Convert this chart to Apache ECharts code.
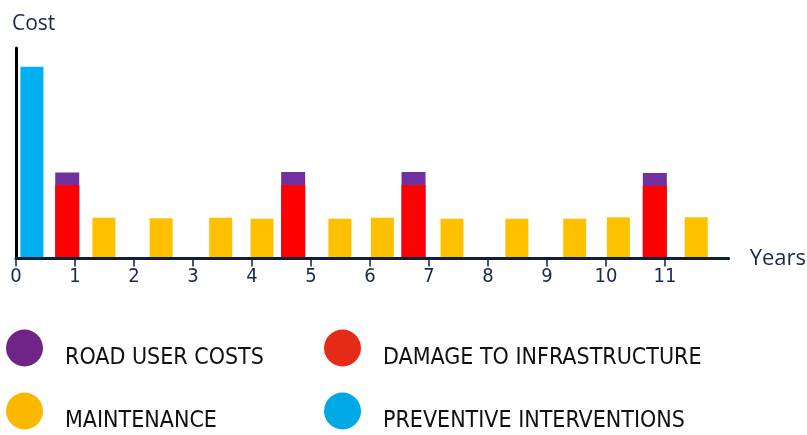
<!DOCTYPE html>
<html>
<head>
<meta charset="utf-8">
<script src="https://cdn.jsdelivr.net/npm/echarts@6/dist/echarts.min.js"></script>
<style>
  html, body { margin: 0; padding: 0; background: #ffffff; }
  #chart { width: 807px; height: 435px; }
</style>
</head>
<body>
<div id="chart"></div>
<script>
// Year ticks shown along the time axis
const yearTicks = [0, 1, 2, 3, 4, 5, 6, 7, 8, 9, 10, 11];

// Preventive intervention (start of life)
const preventiveYears = [0.27];
const preventiveCost = [9.11];

// Interventions after damage: infrastructure damage + road user costs on top
const damageYears = [0.86, 4.69, 6.73, 10.82];
const damageCost = [3.49, 3.49, 3.49, 3.46];
const userCost = [0.59, 0.62, 0.62, 0.60];

// Routine maintenance
const maintenanceYears = [1.49, 2.46, 3.47, 4.17, 5.49, 6.21, 7.39, 8.49, 9.47, 10.21, 11.53];
const maintenanceCost = [1.94, 1.91, 1.94, 1.89, 1.89, 1.94, 1.89, 1.89, 1.89, 1.96, 1.96];

const pairs = (xs, ys) => xs.map((x, i) => [x, ys[i]]);

// Road user costs sit on top of the damage bars: draw the combined height
// behind the damage bar so only the user-cost part shows above it.
const damagePlusUser = damageCost.map((v, i) => +(v + userCost[i]).toFixed(2));

const NAVY = '#0e1f3d';
const TEXT_NAVY = '#18294a';
const condensed = 'DejaVu Sans Condensed';

// Legend labels sit a little below the centre of their colour dot:
// an empty first line pushes the label down by half a line.
const legendBase = {
  orient: 'horizontal',
  padding: 0,
  icon: 'circle',
  itemWidth: 37,
  itemHeight: 37,
  formatter: name => '\n' + name,
  textStyle: {
    fontFamily: condensed,
    fontSize: 23,
    color: '#111111',
    lineHeight: 21,
    padding: [0, 0, 0, 17]
  }
};

const chart = echarts.init(document.getElementById('chart'), null, { renderer: 'canvas' });

chart.setOption({
  animation: false,
  backgroundColor: '#ffffff',
  grid: { left: 16, right: 75, top: 48, bottom: 176.5 },
  xAxis: {
    type: 'value',
    min: 0,
    max: 12.08,
    interval: 1,
    z: 5,
    name: 'Years',
    nameLocation: 'end',
    nameGap: 21,
    nameTextStyle: { color: TEXT_NAVY, fontSize: 22, fontFamily: 'Open Sans', verticalAlign: 'middle', padding: [3, 0, 0, 0] },
    axisLine: { show: true, lineStyle: { color: NAVY, width: 3 } },
    axisTick: { show: true, length: 8, customValues: yearTicks, lineStyle: { color: NAVY, width: 1.5 } },
    axisLabel: {
      customValues: yearTicks,
      color: TEXT_NAVY,
      fontSize: 20,
      fontFamily: condensed,
      margin: 8
    },
    splitLine: { show: false }
  },
  yAxis: {
    type: 'value',
    min: 0,
    max: 10,
    name: 'Cost',
    nameLocation: 'end',
    nameGap: 13,
    nameTextStyle: { color: TEXT_NAVY, fontSize: 21, fontFamily: 'Open Sans', align: 'left', padding: [0, 0, 0, -4] },
    axisLine: { show: true, lineStyle: { color: '#000000', width: 3 } },
    axisTick: { show: false },
    axisLabel: { show: false },
    splitLine: { show: false }
  },
  legend: [
    Object.assign({}, legendBase, { left: 6, top: 326, data: [{ name: 'ROAD USER COSTS', itemStyle: { color: '#6e2585' } }] }),
    Object.assign({}, legendBase, { left: 324, top: 326, data: [{ name: 'DAMAGE TO INFRASTRUCTURE', itemStyle: { color: '#e52a18' } }] }),
    Object.assign({}, legendBase, { left: 6, top: 389, data: [{ name: 'MAINTENANCE', itemStyle: { color: '#fbb800' } }] }),
    Object.assign({}, legendBase, { left: 324, top: 389, data: [{ name: 'PREVENTIVE INTERVENTIONS', itemStyle: { color: '#00a8e6' } }] })
  ],
  series: [
    {
      name: 'PREVENTIVE INTERVENTIONS',
      type: 'bar',
      barWidth: 23,
      barGap: '-100%',
      itemStyle: { color: '#00b0f0' },
      data: pairs(preventiveYears, preventiveCost)
    },
    {
      name: 'ROAD USER COSTS',
      type: 'bar',
      barWidth: 24,
      barGap: '-100%',
      itemStyle: { color: '#7030a0' },
      data: pairs(damageYears, damagePlusUser)
    },
    {
      name: 'DAMAGE TO INFRASTRUCTURE',
      type: 'bar',
      barWidth: 24,
      barGap: '-100%',
      itemStyle: { color: '#ff0000' },
      data: pairs(damageYears, damageCost)
    },
    {
      name: 'MAINTENANCE',
      type: 'bar',
      barWidth: 23,
      barGap: '-100%',
      itemStyle: { color: '#ffc000' },
      data: pairs(maintenanceYears, maintenanceCost)
    }
  ]
});
</script>
</body>
</html>
